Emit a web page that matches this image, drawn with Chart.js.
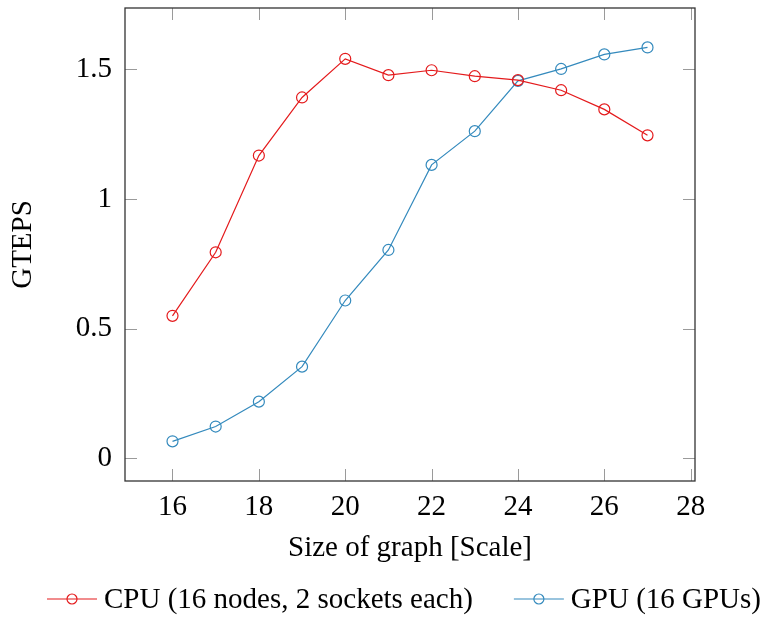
<!DOCTYPE html>
<html>
<head>
<meta charset="utf-8">
<title>GTEPS vs graph scale</title>
<script src="https://cdn.jsdelivr.net/npm/chart.js@4.4.1/dist/chart.umd.min.js"></script>
<style>
  html, body { margin: 0; padding: 0; background: #fff; }
  #wrap { width: 767px; height: 617px; }
</style>
</head>
<body>
<div id="wrap"><canvas id="chart"></canvas></div>
<script>
// Graph size (Graph500 scale) and measured throughput
const graphScale = [16, 17, 18, 19, 20, 21, 22, 23, 24, 25, 26, 27];
const cpuGteps = [0.55, 0.795, 1.168, 1.392, 1.541, 1.478, 1.497, 1.474, 1.459, 1.42, 1.346, 1.246];
const gpuGteps = [0.066, 0.123, 0.219, 0.354, 0.609, 0.804, 1.132, 1.262, 1.456, 1.502, 1.558, 1.585];
const seriesLabels = ['CPU (16 nodes, 2 sockets each)', 'GPU (16 GPUs)'];

// Axis ticks
const xTickValues = [16, 18, 20, 22, 24, 26, 28];
const yTickValues = [0, 0.5, 1, 1.5];

const RED = '#e41a1c';
const BLUE = '#348abd';
const FONT = '"Liberation Serif", "DejaVu Serif", serif';

const toPoints = ys => graphScale.map((x, i) => ({ x: x, y: ys[i] }));

// frame round the plot area plus inward ticks on all four sides
const frameTicks = {
    id: 'frameTicks',
    beforeDatasetsDraw(chart) {
        const { ctx, chartArea: a } = chart;
        const x = chart.scales.x, y = chart.scales.y;
        const len = 12;
        ctx.save();
        ctx.strokeStyle = '#9a9a9a';
        ctx.lineWidth = 1;
        ctx.beginPath();
        x.ticks.forEach(t => {
            const px = Math.round(x.getPixelForValue(t.value)) + 0.5;
            ctx.moveTo(px, a.top); ctx.lineTo(px, a.top + len);
            ctx.moveTo(px, a.bottom); ctx.lineTo(px, a.bottom - len);
        });
        y.ticks.forEach(t => {
            const py = Math.round(y.getPixelForValue(t.value)) + 0.5;
            ctx.moveTo(a.left, py); ctx.lineTo(a.left + len, py);
            ctx.moveTo(a.right, py); ctx.lineTo(a.right - len, py);
        });
        ctx.stroke();
        ctx.strokeStyle = '#333';
        ctx.lineWidth = 1.3;
        ctx.strokeRect(a.left, a.top, a.right - a.left, a.bottom - a.top);
        ctx.restore();
    }
};

// legend row under the axis title: line + open circle, then the label
const bottomLegend = {
    id: 'bottomLegend',
    afterDraw(chart) {
        const ctx = chart.ctx;
        const y = 599;
        let x = 47;
        ctx.save();
        ctx.font = '29px ' + FONT;
        ctx.textBaseline = 'middle';
        chart.data.datasets.forEach(ds => {
            ctx.strokeStyle = ds.borderColor;
            ctx.lineWidth = 1.2;
            ctx.beginPath();
            ctx.moveTo(x, y);
            ctx.lineTo(x + 50, y);
            ctx.stroke();
            ctx.beginPath();
            ctx.arc(x + 25, y, 5, 0, Math.PI * 2);
            ctx.stroke();
            ctx.fillStyle = '#000';
            ctx.fillText(ds.label, x + 57, y + 1);
            x += 57 + ctx.measureText(ds.label).width + 41;
        });
        ctx.restore();
    }
};

const lineSet = (label, data, color) => ({
    label: label,
    data: data,
    borderColor: color,
    borderWidth: 1.2,
    backgroundColor: 'transparent',
    pointStyle: 'circle',
    pointRadius: 5.5,
    pointBorderWidth: 1.2,
    pointBorderColor: color,
    pointBackgroundColor: 'transparent',
    tension: 0,
    fill: false
});

// no extra room for tick labels sticking past the plot edges
const noEdgePadding = s => {
    s.paddingTop = 0;
    s.paddingBottom = 0;
    s.paddingLeft = 0;
    s.paddingRight = 0;
};

new Chart(document.getElementById('chart'), {
    type: 'line',
    data: {
        datasets: [
            lineSet(seriesLabels[0], toPoints(cpuGteps), RED),
            lineSet(seriesLabels[1], toPoints(gpuGteps), BLUE)
        ]
    },
    options: {
        responsive: true,
        maintainAspectRatio: false,
        animation: false,
        layout: { padding: { top: 8, bottom: 50, left: 0, right: 0 } },
        plugins: {
            legend: { display: false },
            tooltip: { enabled: false }
        },
        scales: {
            x: {
                type: 'linear',
                min: 14.9,
                max: 28.1,
                afterBuildTicks: s => { s.ticks = xTickValues.map(v => ({ value: v })); },
                afterFit: s => { s.height = 86; noEdgePadding(s); },
                grid: { display: false, drawTicks: false },
                border: { display: false },
                ticks: { padding: 9, color: '#000', font: { family: FONT, size: 29 } },
                title: {
                    display: true,
                    text: 'Size of graph [Scale]',
                    color: '#000',
                    font: { family: FONT, size: 29 },
                    padding: { top: 0, bottom: 1 }
                }
            },
            y: {
                type: 'linear',
                min: -0.087,
                max: 1.737,
                afterBuildTicks: s => { s.ticks = yTickValues.map(v => ({ value: v })); },
                afterFit: s => { s.width = 125; noEdgePadding(s); },
                grid: { display: false, drawTicks: false },
                border: { display: false },
                ticks: {
                    padding: 13,
                    color: '#000',
                    font: { family: FONT, size: 29 },
                    callback: v => String(v)
                },
                title: {
                    display: true,
                    text: 'GTEPS',
                    color: '#000',
                    font: { family: FONT, size: 29 },
                    padding: { top: 6, bottom: 0 }
                }
            },
            // empty axis that only keeps a margin on the right of the plot
            yRight: {
                type: 'linear',
                position: 'right',
                afterFit: s => { s.width = 72; noEdgePadding(s); },
                grid: { display: false, drawTicks: false },
                border: { display: false },
                ticks: { display: false }
            }
        }
    },
    plugins: [frameTicks, bottomLegend]
});
</script>
</body>
</html>
